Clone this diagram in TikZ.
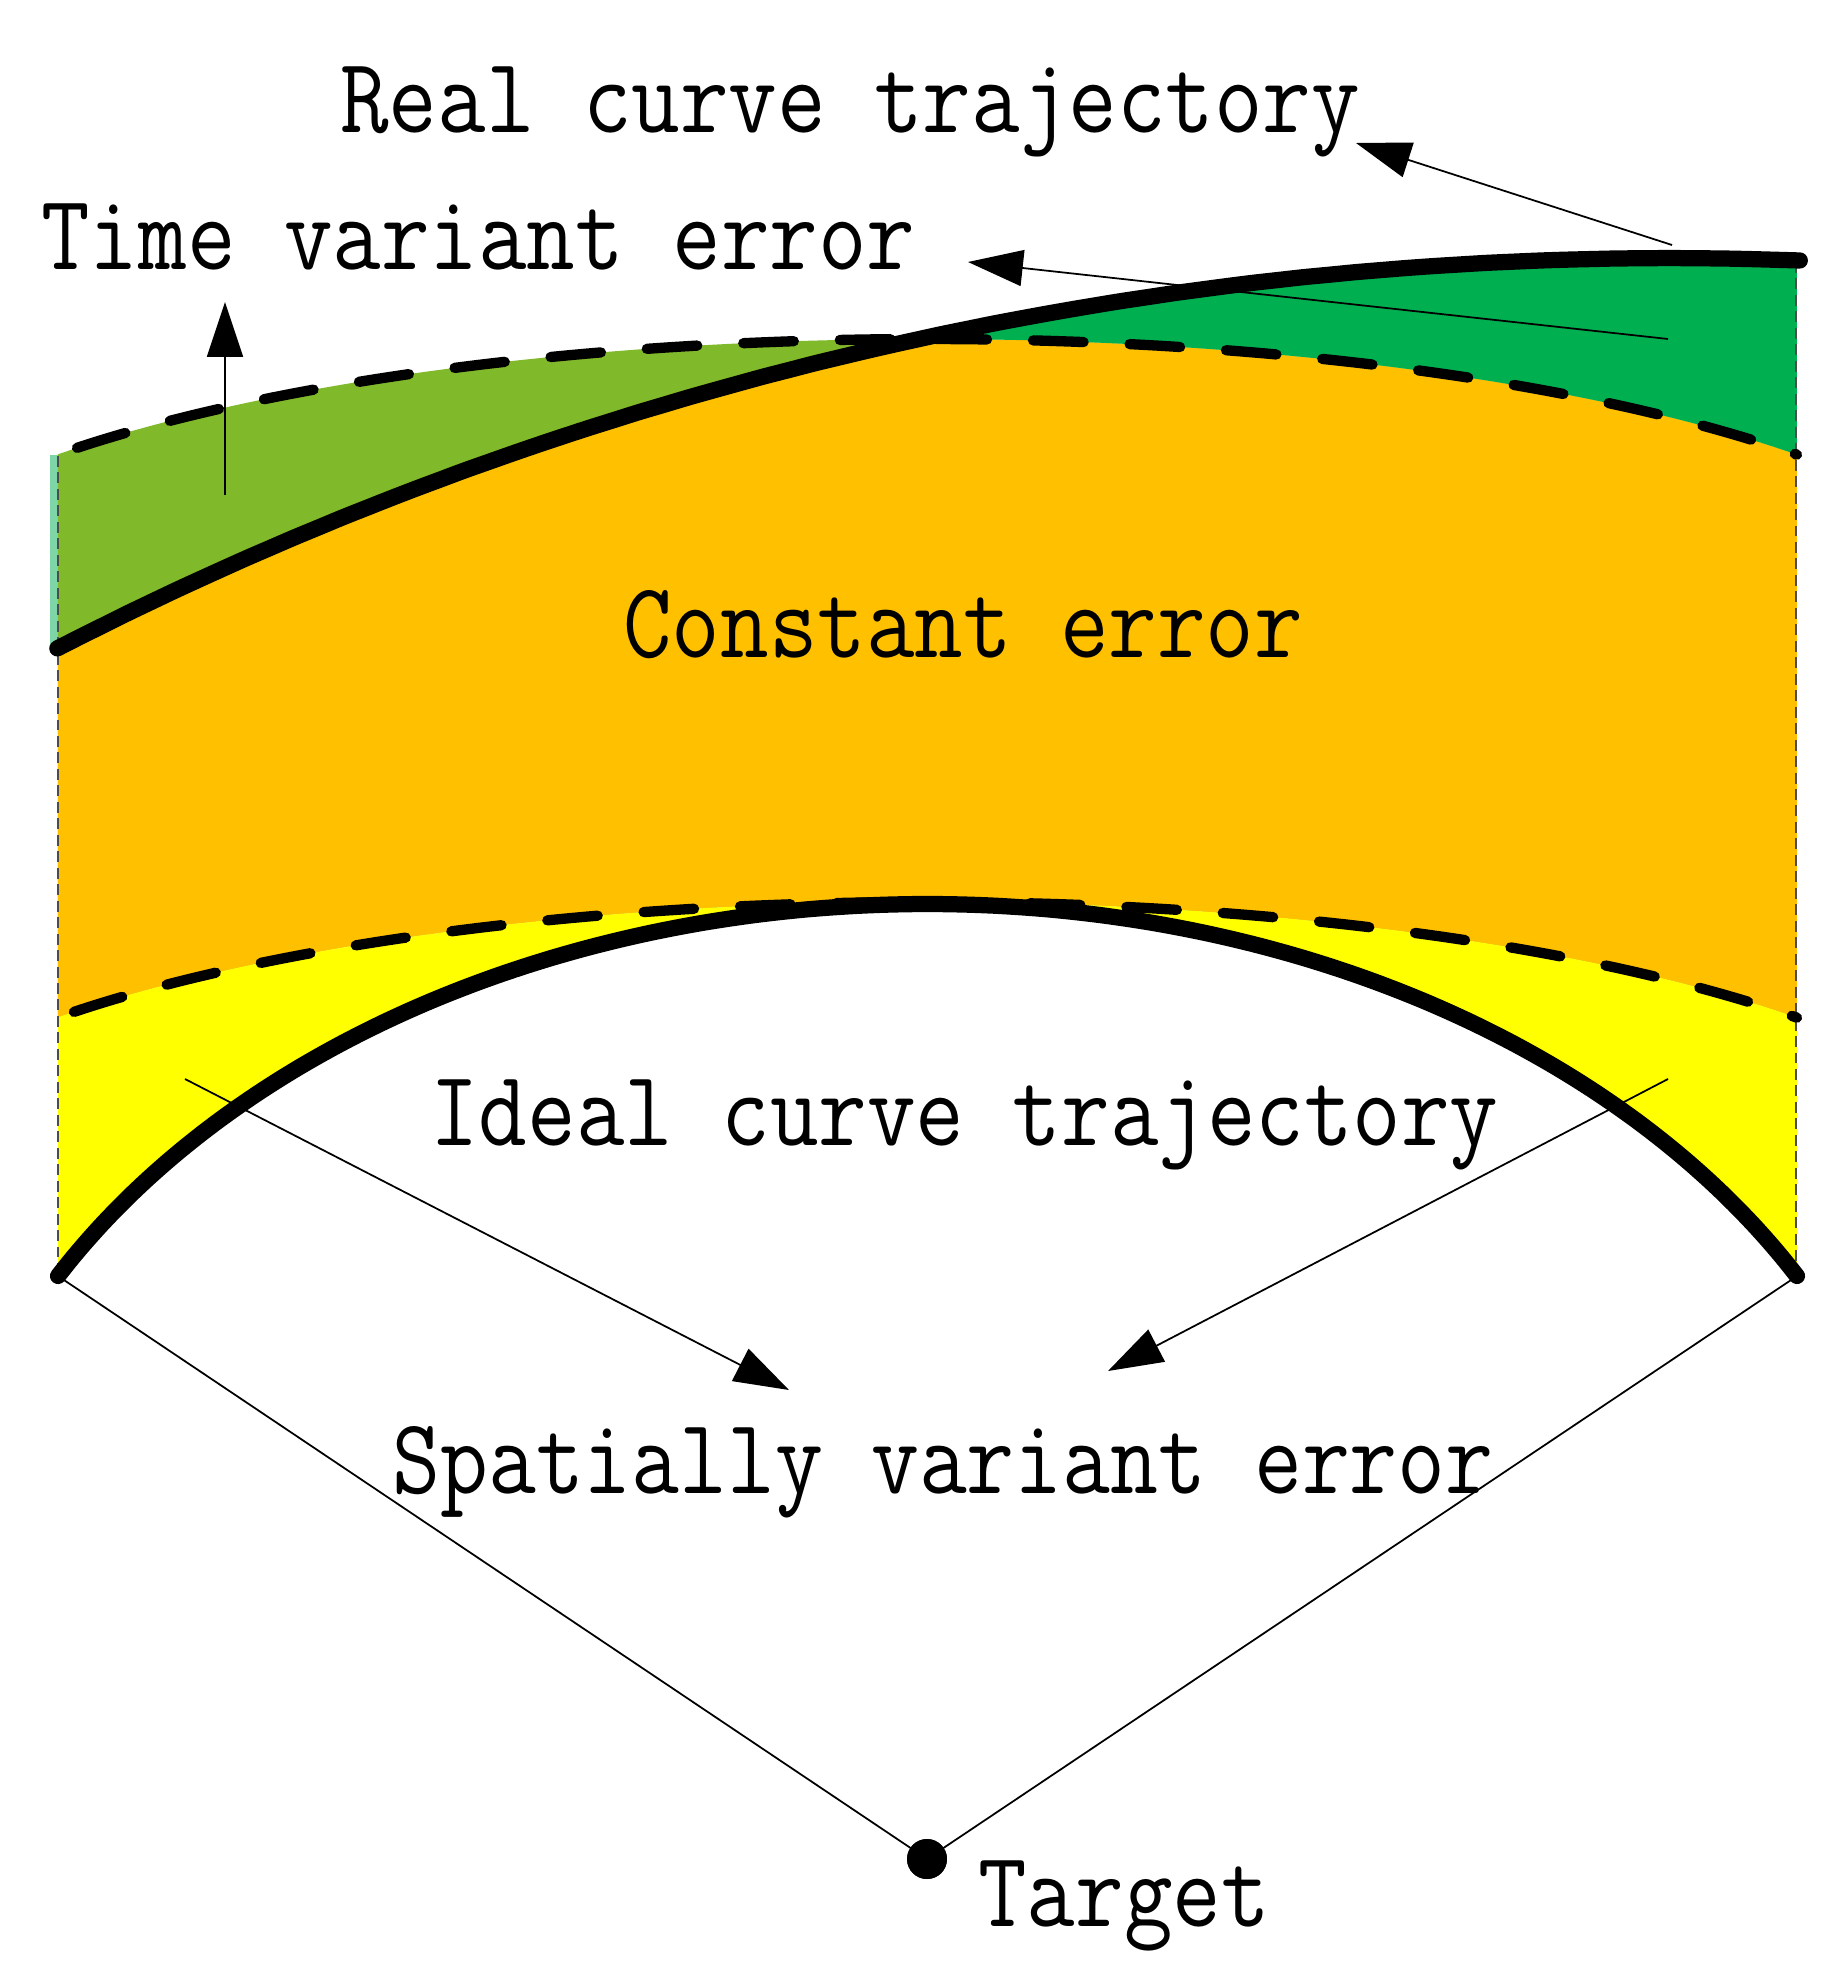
\documentclass[tikz,border=0pt]{standalone}
\usepackage{fontspec}
\usetikzlibrary{arrows.meta}
\definecolor{lgreen}{RGB}{128,185,42}
\definecolor{dgreen}{RGB}{0,176,80}
\definecolor{corange}{RGB}{255,192,0}
\definecolor{cyellow}{RGB}{255,255,0}
\definecolor{cteal}{RGB}{126,214,168}
\newcommand\lbltext[2][0.876]{\scalebox{#1}[1]{#2}}
% real curve: circle arc
\def\realcurve{plot[smooth, samples=70, domain=242.79:272.11, variable=\t] ({1670+3527*cos(\t)},{3785+3527*sin(\t)})}
% upper dashed: elliptic arc (fill version from x=58, stroke version from x=77)
\def\upperF{plot[smooth, samples=70, domain=217.81:322.27, variable=\t] ({927+1100*cos(\t)},{637+298*sin(\t)})}
\def\upperS{plot[smooth, samples=70, domain=219.4:322.27, variable=\t] ({927+1100*cos(\t)},{637+298*sin(\t)})}
% lower dashed
\def\lowerF{plot[smooth, samples=70, domain=217.81:322.27, variable=\t] ({927+1100*cos(\t)},{1200+298*sin(\t)})}
\def\lowerS{plot[smooth, samples=70, domain=219.15:322.27, variable=\t] ({927+1100*cos(\t)},{1200+298*sin(\t)})}
% ideal curve
\def\idealcurve{plot[smooth, samples=80, domain=209.6:330.4, variable=\t] ({927.5+1000*cos(\t)},{1639+735*sin(\t)})}
\tikzset{
  lbl/.style={anchor=base west, inner sep=0pt, font=\ttfamily\addfontfeatures{FakeBold=0.4}\fontsize{49pt}{58pt}\selectfont},
  thickcurve/.style={line width=7.4pt, line cap=round, line join=round},
  dashcurve/.style={line width=4.7pt, line cap=round, dash pattern=on 23pt off 21pt},
  thinline/.style={line width=0.8pt},
  arrowline/.style={line width=0.8pt, -{Triangle[length=25pt,width=16.4pt]}},
  edgedash/.style={line width=0.5pt, dash pattern=on 5pt off 2.5pt, black!70}
}
\begin{document}
\begin{tikzpicture}[x=0.016cm, y=-0.016cm]
\path[use as bounding box, fill=white] (0,0) rectangle (1847,1964);
% fills
\fill[cteal] (50,455) rectangle (58,650);
\begin{scope}
  \clip \upperF -- (1797,1500) -- (58,1500) -- cycle;
  \fill[lgreen] \lowerF -- (1797,0) -- (58,0) -- cycle;
\end{scope}
\begin{scope}
  \clip \upperF -- (1797,1500) -- (58,1500) -- cycle;
  \clip \realcurve -- (1800,1500) -- (57,1500) -- cycle;
  \fill[corange] \lowerF -- (1797,0) -- (58,0) -- cycle;
\end{scope}
\begin{scope}
  \clip \realcurve -- (1800,1500) -- (57,1500) -- cycle;
  \fill[dgreen] \upperF -- (1797,0) -- (58,0) -- cycle;
\end{scope}
\begin{scope}
  \clip \idealcurve -- (1797,0) -- (58,0) -- cycle;
  \fill[cyellow] \lowerF -- (1797,1500) -- (58,1500) -- cycle;
\end{scope}
% side edges
\draw[edgedash] (58,456) -- (58,1277);
\draw[edgedash] (1796,262) -- (1796,1275);
% dashed curves
\draw[dashcurve] \upperS;
\draw[dashcurve] \lowerS;
% thick curves
\draw[thickcurve] \realcurve;
\draw[thickcurve] \idealcurve;
% coordinates
\coordinate (idealL) at (58,1276);
\coordinate (idealR) at (1797,1276);
\coordinate (tvA) at (225,495);
\coordinate (tvB) at (225,302);
\coordinate (tvcA) at (1668,339);
\coordinate (tvcB) at (968,262);
\coordinate (rcA) at (1672,245);
\coordinate (rcB) at (1356,143);
\coordinate (spLA) at (185,1079);
\coordinate (spLB) at (789,1390);
\coordinate (spRA) at (1668,1079);
\coordinate (spRB) at (1108,1371);
\node[circle, fill=black, inner sep=0pt, minimum size=18.2pt] (tgt) at (927,1859) {};
% connectors
\draw[thinline] (idealL) -- (tgt.center);
\draw[thinline] (idealR) -- (tgt.center);
\node[circle, fill=black, inner sep=0pt, minimum size=18.2pt] at (tgt.center) {};
\draw[arrowline] (tvA) -- (tvB);
\draw[arrowline] (tvcA) -- (tvcB);
\draw[arrowline] (rcA) -- (rcB);
\draw[arrowline] (spLA) -- (spLB);
\draw[arrowline] (spRA) -- (spRB);
% labels
\node[lbl] (realtxt) at (340,132) {\lbltext{Real curve trajectory}};
\node[lbl] (timetxt) at (41,269) {\lbltext{Time variant error}};
\node[lbl] (consttxt) at (623,657) {\lbltext{Constant error}};
\node[lbl] (idealtxt) at (430,1145) {\lbltext{Ideal curve trajectory}};
\node[lbl] (spattxt) at (392,1493) {\lbltext[0.864]{Spatially variant error}};
\node[lbl] (tgttxt) at (978,1926) {\lbltext{Target}};
\end{tikzpicture}
\end{document}
